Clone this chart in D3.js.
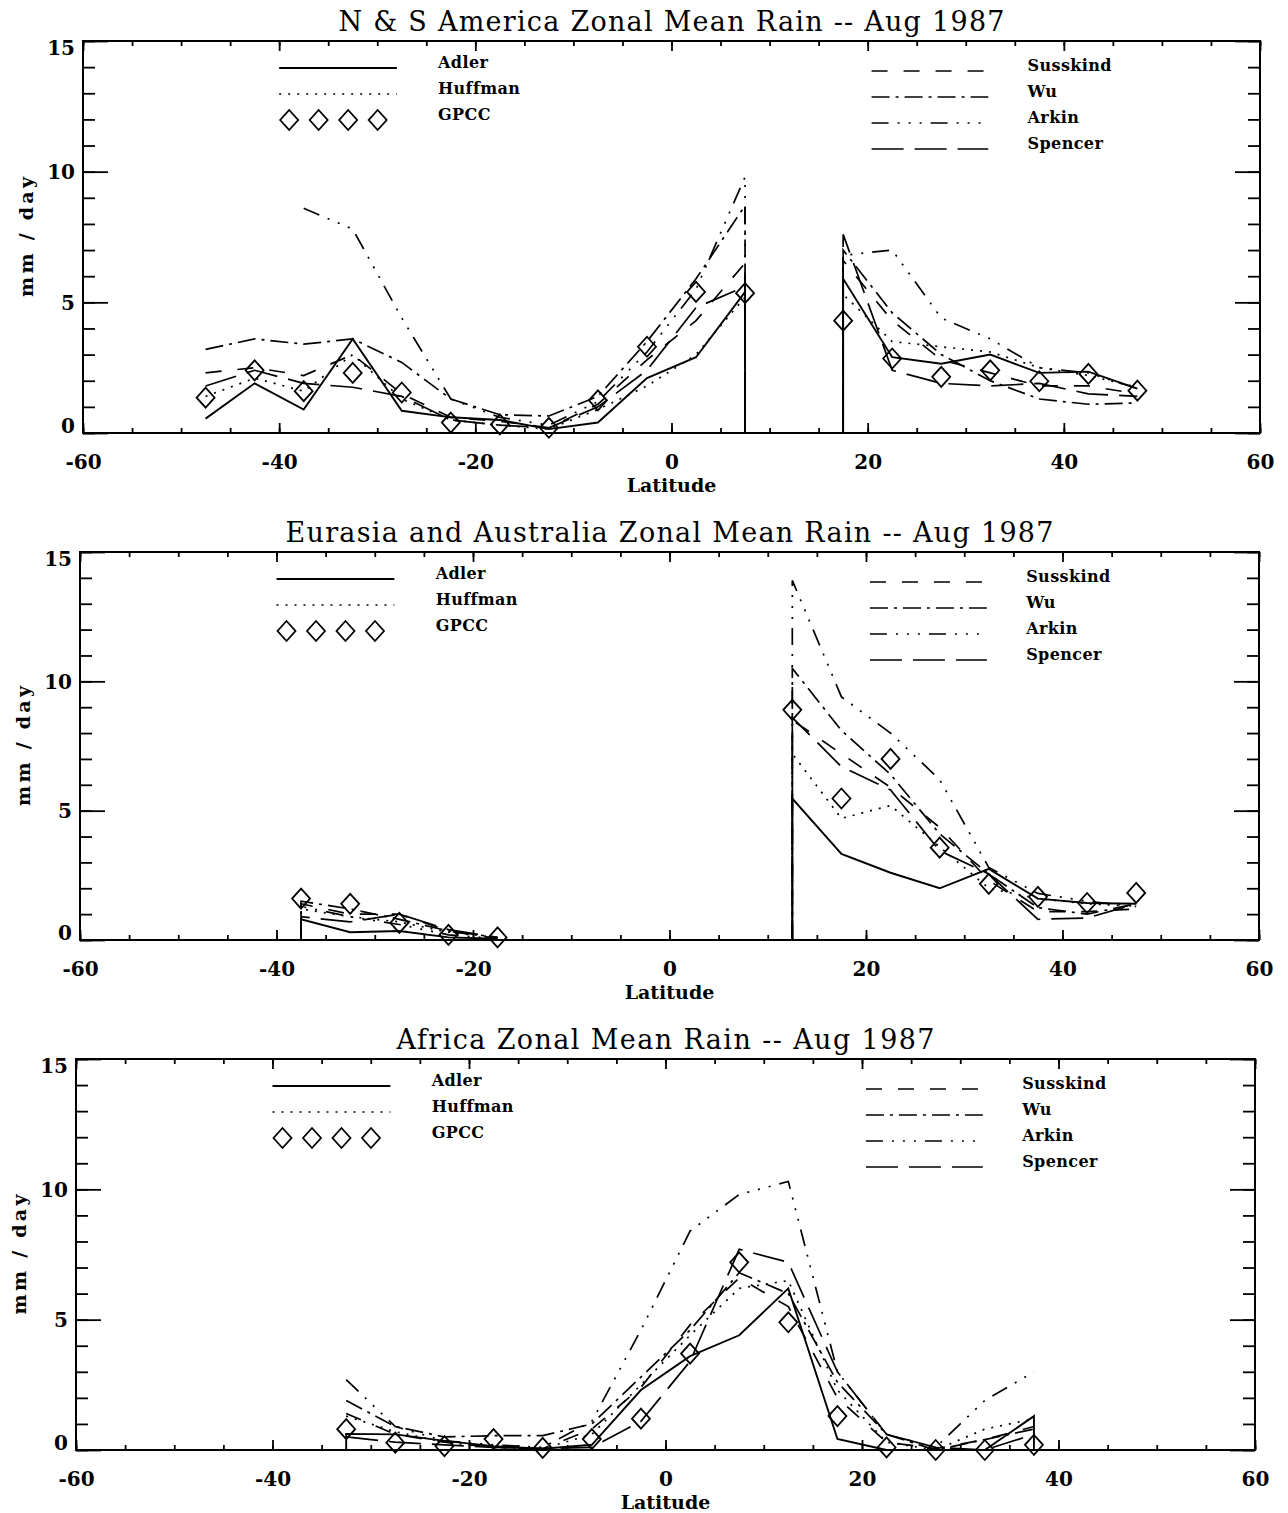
<!DOCTYPE html>
<html><head><meta charset="utf-8">
<script src="https://cdn.jsdelivr.net/npm/d3@7"></script>
<style>body{margin:0;background:#fff}</style>
</head><body>
<svg id="c" width="1288" height="1513"></svg>
<script>
// ---------- DATA ----------
const titles = [
  "N & S America Zonal Mean Rain -- Aug 1987",
  "Eurasia and Australia Zonal Mean Rain -- Aug 1987",
  "Africa Zonal Mean Rain -- Aug 1987"
];
const xTicks = [-60, -40, -20, 0, 20, 40, 60];
const yTicks = [0, 5, 10, 15];
const leftLegend = ["Adler", "Huffman", "GPCC"];
const rightLegend = ["Susskind", "Wu", "Arkin", "Spencer"];

// N & S America (repeated latitudes mark where the curves drop to zero)
const latAmerica      = [-47.5,-42.5,-37.5,-32.5,-27.5,-22.5,-17.5,-12.5,-7.5,-2.5,2.5,7.5,7.5,17.5,17.5,22.5,27.5,32.5,37.5,42.5,47.5];
const adlerAmerica    = [0.55,1.9,0.9,3.6,0.85,0.6,0.5,0.15,0.4,2.1,2.9,5.4,0,0,5.9,2.9,2.65,3.0,2.3,2.35,1.7];
const huffmanAmerica  = [1.4,2.1,1.6,3.0,1.3,0.5,0.3,0.15,0.9,1.8,3.0,5.2,0,0,5.3,3.5,3.3,3.1,2.5,2.2,1.75];
const gpccAmerica     = [1.35,2.4,1.6,2.3,1.55,0.4,0.33,0.2,1.25,3.3,5.4,5.35,null,null,4.3,2.85,2.15,2.4,1.98,2.26,1.62];
const susskindAmerica = [2.3,2.5,2.2,3.0,1.5,0.6,0.45,0.2,1.1,2.8,4.3,6.5,0,0,6.6,4.3,2.8,2.3,1.8,1.8,1.5];
const wuAmerica       = [3.2,3.6,3.4,3.6,2.7,1.3,0.7,0.65,1.4,3.5,5.9,8.7,0,0,7.0,4.6,3.0,2.0,1.3,1.1,1.15];
const arkinAmerica    = [null,null,8.6,7.8,4.4,1.3,0.6,0.3,1.2,3.1,5.5,9.8,0,0,6.8,7.0,4.4,3.6,2.5,2.3,1.7];
const spencerAmerica  = [1.8,2.4,1.9,1.75,1.4,0.5,0.3,0.2,1.0,2.4,4.8,5.6,0,0,7.6,2.4,1.9,1.8,1.9,1.5,1.4];

// Eurasia and Australia (null at -2.5 = no data between the two land bands)
const latEurasia      = [-37.5,-37.5,-32.5,-27.5,-22.5,-17.5,-2.5,12.5,12.5,17.5,22.5,27.5,32.5,37.5,42.5,47.5];
const adlerEurasia    = [0,0.8,0.3,0.35,0.1,0.05,null,0,5.47,3.33,2.6,2.0,2.75,1.6,1.43,1.4];
const huffmanEurasia  = [0,1.2,0.9,0.7,0.3,0.1,null,0,7.2,4.7,5.2,3.6,2.0,1.6,1.4,1.3];
const gpccEurasia     = [null,1.6,1.4,0.66,0.2,0.1,null,null,8.9,5.47,7.0,3.57,2.17,1.67,1.43,1.82];
const susskindEurasia = [0,1.4,1.0,1.0,0.35,0.05,null,0,8.5,7.2,5.9,4.35,2.3,1.1,1.1,1.2];
const wuEurasia       = [0,1.5,1.2,0.8,0.35,0.1,null,0,10.5,8.1,6.4,4.1,2.55,1.25,1.0,1.4];
const arkinEurasia    = [0,1.3,0.9,0.6,0.2,0.05,null,0,13.9,9.4,8.0,6.2,2.8,1.8,1.5,1.3];
const spencerEurasia  = [0,0.9,0.7,1.0,0.4,0.1,null,0,8.6,6.7,5.8,3.45,2.55,0.8,0.85,1.4];

// Africa
const latAfrica       = [-32.5,-32.5,-27.5,-22.5,-17.5,-12.5,-7.5,-2.5,2.5,7.5,12.5,17.5,22.5,27.5,32.5,37.5,37.5];
const adlerAfrica     = [0,0.62,0.6,0.35,0.15,0.05,0.2,2.3,3.6,4.4,6.2,0.42,0.0,0.0,0.0,1.3,0];
const huffmanAfrica   = [null,1.3,0.7,0.3,0.1,0.05,0.6,2.5,4.4,6.2,6.5,2.3,0.3,0.0,0.8,1.2,null];
const gpccAfrica      = [null,0.8,0.28,0.15,0.42,0.08,0.42,1.2,3.7,7.2,4.9,1.3,0.1,0.0,0.0,0.2,null];
const susskindAfrica  = [null,1.4,0.6,0.3,0.1,0.05,0.8,2.4,4.8,6.6,5.5,2.0,0.3,0.05,0.4,0.9,null];
const wuAfrica        = [null,1.9,0.9,0.5,0.55,0.55,1.0,2.8,4.6,6.8,6.0,2.6,0.6,0.0,0.4,0.8,null];
const arkinAfrica     = [null,2.7,0.9,0.35,0.2,0.1,1.1,4.6,8.4,9.8,10.3,3.0,0.6,0.1,1.9,3.0,null];
const spencerAfrica   = [null,0.5,0.3,0.2,0.1,0.05,0.1,1.1,3.4,7.7,7.2,3.0,0.6,0.1,0.0,0.6,null];

// ---------- STYLE / LAYOUT ----------
const dashes = {Adler:null, Huffman:"2,7", Susskind:"16,16", Wu:"18,6,3,6", Arkin:"17,9,2,9,2,9,2,9", Spencer:"32,11"};
const panels = [
  {title:titles[0], lat:latAmerica, frame:{left:83,right:1260,top:41,bottom:433},
   series:{Adler:adlerAmerica,Huffman:huffmanAmerica,Susskind:susskindAmerica,Wu:wuAmerica,Arkin:arkinAmerica,Spencer:spencerAmerica},
   gpcc:gpccAmerica, titleLen:666},
  {title:titles[1], lat:latEurasia, frame:{left:80,right:1259,top:552,bottom:940},
   series:{Adler:adlerEurasia,Huffman:huffmanEurasia,Susskind:susskindEurasia,Wu:wuEurasia,Arkin:arkinEurasia,Spencer:spencerEurasia},
   gpcc:gpccEurasia, titleLen:768},
  {title:titles[2], lat:latAfrica, frame:{left:76,right:1255,top:1059,bottom:1450},
   series:{Adler:adlerAfrica,Huffman:huffmanAfrica,Susskind:susskindAfrica,Wu:wuAfrica,Arkin:arkinAfrica,Spencer:spencerAfrica},
   gpcc:gpccAfrica, titleLen:538}
];

const svg = d3.select("#c");
const titleFont = "'DejaVu Serif', 'Liberation Serif', serif";
const boldFont = "'DejaVu Serif', 'Liberation Serif', serif";
const diamond = "M0,-10L9,0L0,10L-9,0Z";

panels.forEach(p => {
  const f = p.frame;
  const x = d3.scaleLinear().domain([-60,60]).range([f.left,f.right]);
  const y = d3.scaleLinear().domain([0,15]).range([f.bottom,f.top]);
  const g = svg.append("g");

  // title
  g.append("text").attr("x",(f.left+f.right)/2).attr("y",f.top-10)
    .attr("text-anchor","middle").attr("font-family",titleFont).attr("font-size",27)
    .attr("textLength",p.titleLen).attr("lengthAdjust","spacing").text(p.title);

  // axes: major & minor ticks on all four sides
  const rm = s => s.select(".domain").remove();
  g.append("g").attr("transform",`translate(0,${f.bottom})`)
    .call(d3.axisBottom(x).tickValues(d3.range(-60,61,5)).tickSize(-5).tickSizeOuter(0).tickFormat(""))
    .call(rm);
  const xb = g.append("g").attr("transform",`translate(0,${f.bottom})`)
    .call(d3.axisBottom(x).tickValues(xTicks).tickSize(-10).tickSizeOuter(0).tickFormat(d=>String(d)))
    .call(rm);
  xb.selectAll("text").attr("y",36).attr("dy",null)
    .attr("font-family",boldFont).attr("font-weight","bold").attr("font-size",20).attr("fill","#000");
  g.append("g").attr("transform",`translate(0,${f.top})`)
    .call(d3.axisTop(x).tickValues(d3.range(-60,61,5)).tickSize(-5).tickSizeOuter(0).tickFormat(""))
    .call(rm);
  g.append("g").attr("transform",`translate(0,${f.top})`)
    .call(d3.axisTop(x).tickValues(xTicks).tickSize(-10).tickSizeOuter(0).tickFormat(""))
    .call(rm);
  g.append("g").attr("transform",`translate(${f.left},0)`)
    .call(d3.axisLeft(y).tickValues(d3.range(0,16,1)).tickSize(-12).tickSizeOuter(0).tickFormat(""))
    .call(rm);
  const yl = g.append("g").attr("transform",`translate(${f.left},0)`)
    .call(d3.axisLeft(y).tickValues(yTicks).tickSize(-25).tickSizeOuter(0).tickFormat(d=>String(d)))
    .call(rm);
  yl.selectAll("text").attr("x",-8).attr("dy","0.36em")
    .attr("y", d => Math.min(Math.max(0, f.top+6 - y(d)), f.bottom-8 - y(d)))
    .attr("font-family",boldFont).attr("font-weight","bold").attr("font-size",20).attr("fill","#000");
  g.append("g").attr("transform",`translate(${f.right},0)`)
    .call(d3.axisRight(y).tickValues(d3.range(0,16,1)).tickSize(-12).tickSizeOuter(0).tickFormat(""))
    .call(rm);
  g.append("g").attr("transform",`translate(${f.right},0)`)
    .call(d3.axisRight(y).tickValues(yTicks).tickSize(-25).tickSizeOuter(0).tickFormat(""))
    .call(rm);
  g.selectAll(".tick line").attr("stroke","#000").attr("stroke-width",1.8);

  // frame
  g.append("rect").attr("x",f.left).attr("y",f.top).attr("width",f.right-f.left).attr("height",f.bottom-f.top)
    .attr("fill","none").attr("stroke","#000").attr("stroke-width",2);

  // axis titles
  g.append("text").attr("x",(f.left+f.right)/2).attr("y",f.bottom+59).attr("text-anchor","middle")
    .attr("font-family",boldFont).attr("font-weight","bold").attr("font-size",19).text("Latitude");
  g.append("text").attr("transform",`translate(${f.left-50},${(f.top+f.bottom)/2}) rotate(-90)`)
    .attr("text-anchor","middle").attr("font-family",boldFont).attr("font-weight","bold").attr("font-size",19)
    .attr("textLength",120).attr("lengthAdjust","spacing").text("mm / day");

  // data lines
  const line = d3.line().defined(d => d[1] != null).x(d => x(d[0])).y(d => y(d[1]));
  Object.entries(p.series).forEach(([name, vals]) => {
    const pts = p.lat.map((la,i) => [la, vals[i]]);
    g.append("path").attr("d", line(pts)).attr("fill","none").attr("stroke","#000")
      .attr("stroke-width", name==="Adler" ? 1.9 : 1.7)
      .attr("stroke-dasharray", dashes[name]);
  });
  // GPCC diamonds
  const gp = p.lat.map((la,i) => [la, p.gpcc[i]]).filter(d => d[1] != null);
  g.selectAll(".gp").data(gp).enter().append("path").attr("d",diamond)
    .attr("transform", d => `translate(${x(d[0])},${y(d[1])})`)
    .attr("fill","none").attr("stroke","#000").attr("stroke-width",1.8);

  // legend
  const lx0 = x(-40), lx1 = x(-28), ltx = x(-23.8);
  const rx0 = x(20.4), rx1 = x(32.3), rtx = x(36.3);
  leftLegend.forEach((name,i) => {
    const ry = f.top + 27 + i*26;
    if (name === "GPCC") {
      d3.range(4).forEach(k => g.append("path").attr("d",diamond)
        .attr("transform",`translate(${lx0+10+k*29.5},${ry})`)
        .attr("fill","none").attr("stroke","#000").attr("stroke-width",1.8));
    } else {
      g.append("line").attr("x1",lx0).attr("x2",lx1).attr("y1",ry).attr("y2",ry)
        .attr("stroke","#000").attr("stroke-width",name==="Adler"?1.9:1.7).attr("stroke-dasharray",dashes[name]);
    }
    g.append("text").attr("x",ltx).attr("y",ry).attr("font-family",boldFont).attr("font-weight","bold")
      .attr("font-size",16).attr("letter-spacing",0.4).text(name);
  });
  rightLegend.forEach((name,i) => {
    const ry = f.top + 30 + i*26;
    g.append("line").attr("x1",rx0).attr("x2",rx1).attr("y1",ry).attr("y2",ry)
      .attr("stroke","#000").attr("stroke-width",1.7).attr("stroke-dasharray",dashes[name]);
    g.append("text").attr("x",rtx).attr("y",ry).attr("font-family",boldFont).attr("font-weight","bold")
      .attr("font-size",16).attr("letter-spacing",0.4).text(name);
  });
});
</script>
</body></html>
